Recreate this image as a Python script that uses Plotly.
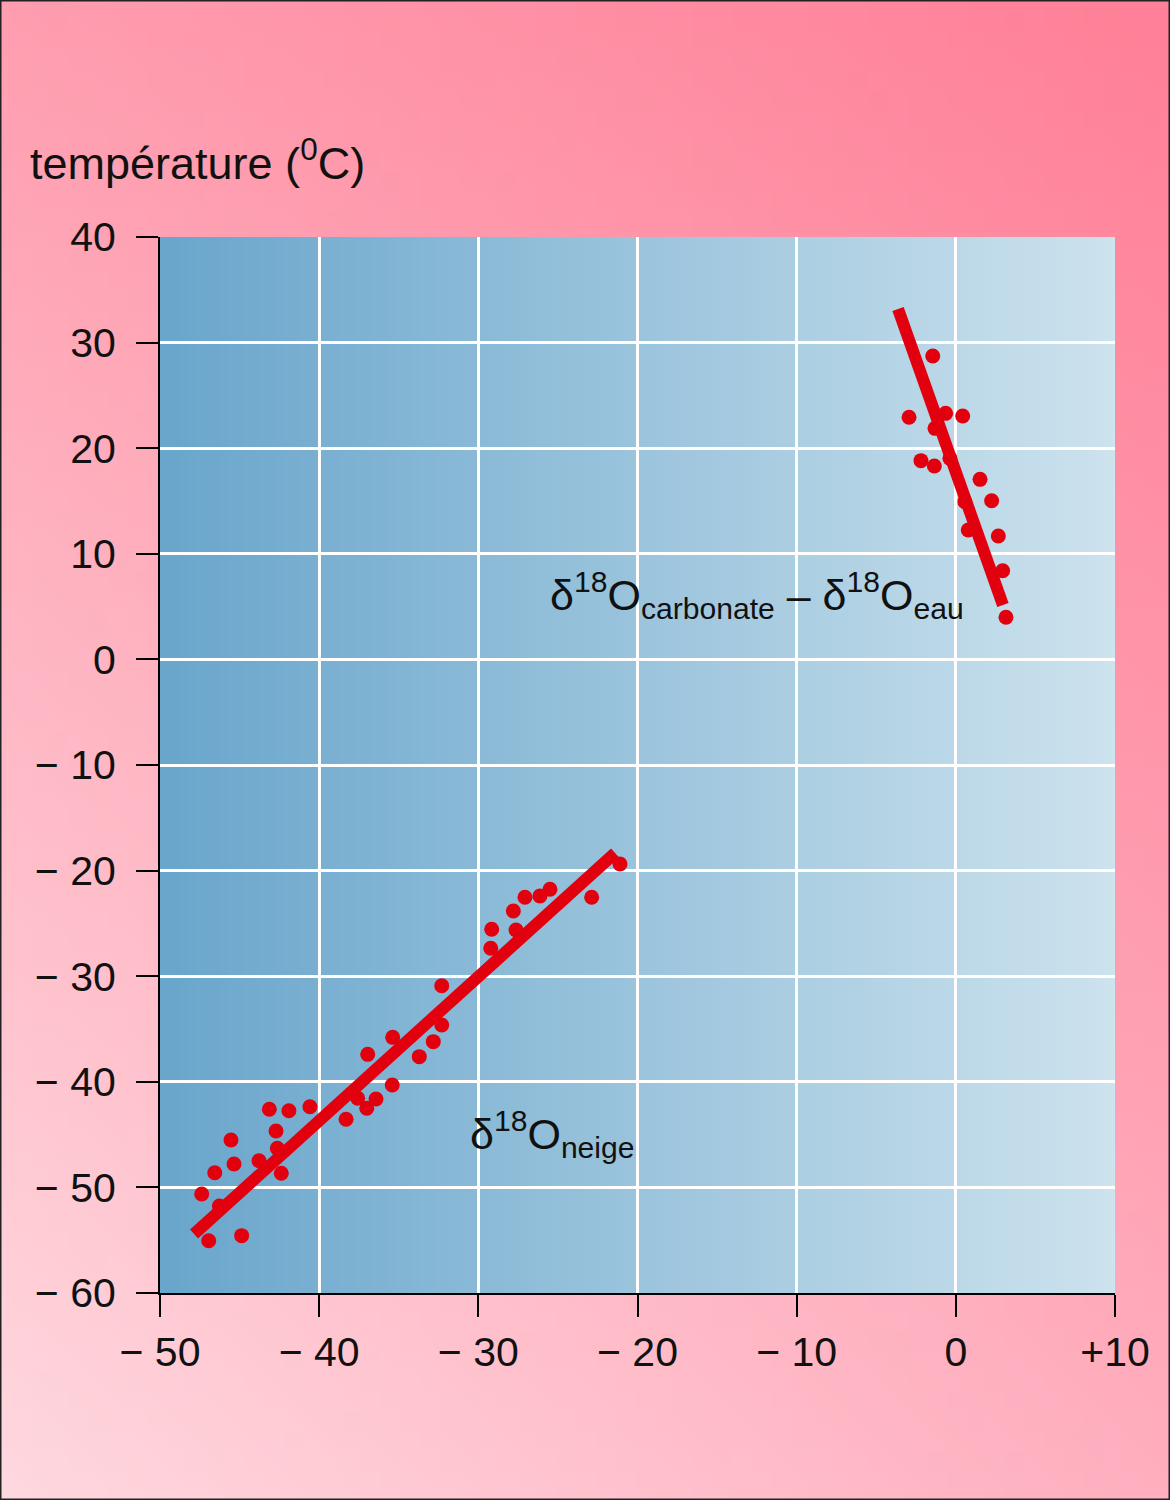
import zlib, struct, base64
import plotly.graph_objects as go

# ---------------- data ----------------
snow_x = [-47.38, -46.94, -46.56, -46.27, -45.54, -45.35, -44.87, -43.78, -43.13, -42.71,
          -42.63, -42.38, -41.90, -40.58, -38.31, -37.58, -37.01, -36.43, -35.41, -36.95,
          -35.38, -33.71, -32.83, -32.30, -32.30, -29.22, -29.16, -27.80, -27.63, -27.07,
          -26.13, -25.50, -22.88, -21.10]
snow_y = [-50.63, -55.05, -48.61, -51.76, -45.51, -47.78, -54.57, -47.47, -42.60, -44.66,
          -46.30, -48.66, -42.74, -42.36, -43.55, -41.56, -42.51, -41.63, -40.30, -37.40,
          -35.79, -37.62, -36.20, -34.62, -30.90, -27.36, -25.56, -23.83, -25.63, -22.53,
          -22.41, -21.77, -22.53, -19.38]
snow_fit_x = [-47.86, -21.41]
snow_fit_y = [-54.41, -18.33]

carb_x = [-1.45, -2.94, -0.64, 0.43, -1.31, -2.19, -1.35, -0.37, 1.52, 2.25,
          0.57, 0.78, 2.67, 2.94, 3.15]
carb_y = [28.73, 22.93, 23.30, 23.05, 21.88, 18.82, 18.31, 19.04, 17.05, 15.03,
          14.93, 12.25, 11.69, 8.40, 3.99]
carb_fit_x = [-3.63, 2.96]
carb_fit_y = [33.18, 5.15]

x_ticks = [-50, -40, -30, -20, -10, 0, 10]
x_labels = ["\u2212 50", "\u2212 40", "\u2212 30", "\u2212 20", "\u2212 10", "0", "+10"]
y_ticks = [40, 30, 20, 10, 0, -10, -20, -30, -40, -50, -60]
y_labels = ["40", "30", "20", "10", "0", "\u2212 10", "\u2212 20", "\u2212 30",
            "\u2212 40", "\u2212 50", "\u2212 60"]

# ---------------- gradient images ----------------
def make_png(w, h, fn):
    rows = []
    for j in range(h):
        row = bytearray([0])
        for i in range(w):
            r, g, b = fn(i / (w - 1), j / (h - 1))
            row += bytes((int(r), int(g), int(b)))
        rows.append(bytes(row))
    raw = b"".join(rows)

    def chunk(t, d):
        c = struct.pack(">I", len(d)) + t + d
        return c + struct.pack(">I", zlib.crc32(t + d) & 0xffffffff)

    png = (b"\x89PNG\r\n\x1a\n"
           + chunk(b"IHDR", struct.pack(">IIBBBBB", w, h, 8, 2, 0, 0, 0))
           + chunk(b"IDAT", zlib.compress(raw, 9))
           + chunk(b"IEND", b""))
    return "data:image/png;base64," + base64.b64encode(png).decode()


TL, TR, BL, BR = (255, 158, 176), (255, 128, 152), (255, 216, 223), (255, 175, 191)


def pink(u, v):
    return tuple(
        (1 - u) * (1 - v) * TL[k] + u * (1 - v) * TR[k] + (1 - u) * v * BL[k] + u * v * BR[k]
        for k in range(3))


BLU_L, BLU_R = (106, 166, 204), (205, 227, 238)


def blue(u, v):
    return tuple(BLU_L[k] + (BLU_R[k] - BLU_L[k]) * u for k in range(3))


pink_img = make_png(60, 75, pink)
blue_img = make_png(120, 2, blue)

W, H = 1170, 1500
L, R, T, B = 160, 55, 237, 207
PW, PH = W - L - R, H - T - B

RED = "#e2000f"
FONT = "Liberation Sans, Arial, Helvetica, sans-serif"

fig = go.Figure()
fig.add_trace(go.Scatter(x=snow_fit_x, y=snow_fit_y, mode="lines",
                         line=dict(color=RED, width=12), hoverinfo="skip"))
fig.add_trace(go.Scatter(x=snow_x, y=snow_y, mode="markers",
                         marker=dict(color=RED, size=15, line=dict(width=0))))
fig.add_trace(go.Scatter(x=carb_fit_x, y=carb_fit_y, mode="lines",
                         line=dict(color=RED, width=12), hoverinfo="skip"))
fig.add_trace(go.Scatter(x=carb_x, y=carb_y, mode="markers",
                         marker=dict(color=RED, size=15, line=dict(width=0))))

fig.update_layout(
    width=W, height=H, autosize=False,
    margin=dict(l=L, r=R, t=T, b=B, pad=0),
    paper_bgcolor="#ffaab9",
    plot_bgcolor="rgba(0,0,0,0)",
    showlegend=False,
    font=dict(family=FONT, color="#111111", size=40),
    images=[
        dict(source=pink_img, xref="paper", yref="paper",
             x=-L / PW, y=1 + T / PH, sizex=W / PW, sizey=H / PH,
             xanchor="left", yanchor="top", sizing="stretch", layer="below"),
        dict(source=blue_img, xref="x", yref="y",
             x=-50, y=40, sizex=60, sizey=100,
             xanchor="left", yanchor="top", sizing="stretch", layer="below"),
    ],
    xaxis=dict(range=[-50, 10], tickvals=x_ticks, ticktext=x_labels,
               showgrid=True, gridcolor="white", gridwidth=3, zeroline=False,
               showline=True, linecolor="black", linewidth=2,
               ticks="outside", ticklen=22, tickwidth=2, tickcolor="black",
               tickfont=dict(size=41, family=FONT, color="#111111"),
               fixedrange=True),
    yaxis=dict(range=[-60, 40], tickvals=y_ticks, ticktext=y_labels,
               showgrid=True, gridcolor="white", gridwidth=3, zeroline=False,
               showline=True, linecolor="black", linewidth=2,
               ticks="outside", ticklen=22, tickwidth=2, tickcolor="black",
               ticklabelstandoff=12,
               tickfont=dict(size=41, family=FONT, color="#111111"),
               fixedrange=True),
    shapes=[dict(type="rect", xref="paper", yref="paper",
                 x0=-L / PW + 0.5 / PW, x1=1 + R / PW - 0.5 / PW,
                 y0=-B / PH + 0.5 / PH, y1=1 + T / PH - 0.5 / PH,
                 line=dict(color="#222222", width=2), fillcolor="rgba(0,0,0,0)",
                 layer="above")],
    annotations=[
        dict(text="température (<sup>0</sup>C)", xref="paper", yref="paper",
             x=(28 - L) / PW, y=(H - B - 160) / PH, xanchor="left", yanchor="middle",
             showarrow=False, font=dict(size=45, family=FONT, color="#111111")),
        dict(text="δ<sup>18</sup>O<sub>carbonate</sub> \u2013 δ<sup>18</sup>O<sub>eau</sub>",
             xref="x", yref="y", x=-25.62, y=6.1, xanchor="left", yanchor="middle",
             showarrow=False, font=dict(size=43, family=FONT, color="#111111")),
        dict(text="δ<sup>18</sup>O<sub>neige</sub>",
             xref="x", yref="y", x=-30.65, y=-44.9, xanchor="left", yanchor="middle",
             showarrow=False, font=dict(size=43, family=FONT, color="#111111")),
    ],
)

fig.write_html("out.html")
